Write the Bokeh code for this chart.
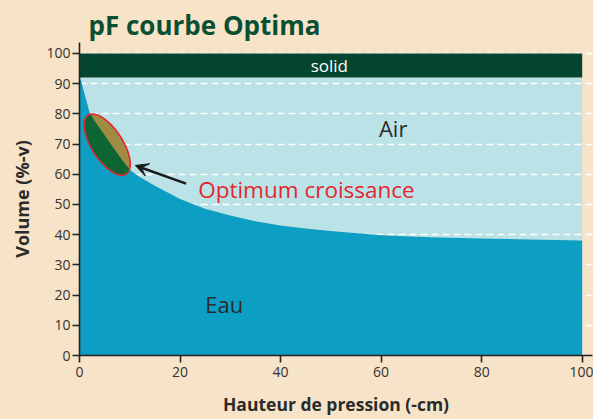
import numpy as np
from bokeh.plotting import figure
from bokeh.models import Range1d, Label, Arrow, VeeHead, FixedTicker
from bokeh.embed import file_html
from bokeh.resources import INLINE

# ---------------- data ----------------
pressure = [0, 0.3, 0.7, 1.4, 2, 3, 4, 5, 6, 8, 9, 10, 11, 12, 15, 20, 25, 30, 35, 40, 45, 50,
            60, 70, 80, 90, 100]
volume = [92, 91, 88.6, 84.2, 80.5, 77.6, 75.3, 72.9, 70.5, 65.8, 63.5, 61.6, 60.2, 59.1, 56.2,
          51.8, 48.6, 46.3, 44.4, 43.0, 42.0, 41.2, 39.8, 39.1, 38.7, 38.4, 38.1]
solid_range = [92, 100]
x_ticks = [0, 20, 40, 60, 80, 100]
y_ticks = [0, 10, 20, 30, 40, 50, 60, 70, 80, 90, 100]
optimum_center = [5.5, 69.8]

# ---------------- styles ----------------
PEACH = "#F7E3C8"
SOLID = "#03452F"
AIR = "#BBE3E7"
WATER = "#0D9EC4"
OLIVE = "#A08B42"
GREEN = "#0D6533"
RED = "#E3262F"
TITLE_GREEN = "#0B4F33"
TXT = "#2B2B2B"
FONT = "Open Sans"

W, H = 593, 419
BL, BR, BT, BB = 79, 1, 42, 64
X_END, Y_END = 102.05, 103.6

p = figure(width=W, height=H, output_backend="svg", toolbar_location=None,
           x_range=Range1d(0, X_END), y_range=Range1d(0, Y_END),
           min_border_left=BL, min_border_right=BR, min_border_top=BT, min_border_bottom=BB,
           background_fill_color=PEACH, border_fill_color=PEACH, outline_line_color=None)

# title
p.title.text = "pF courbe Optima"
p.title.text_font = FONT
p.title.text_font_size = "26px"
p.title.text_font_style = "bold"
p.title.text_color = TITLE_GREEN
p.title.align = "left"
p.title.offset = 9
p.title.standoff = 0

# air (underlay, drawn before the grid)
p.varea(x=pressure, y1=volume, y2=solid_range[0], fill_color=AIR, level="underlay")

# grid (underlay, above the air but below the water)
p.xgrid.visible = False
p.ygrid.ticker = FixedTicker(ticks=y_ticks)
p.ygrid.grid_line_color = "white"
p.ygrid.grid_line_width = 1.5
p.ygrid.grid_line_dash = "7 4"
p.ygrid.level = "underlay"

# water
p.varea(x=pressure, y1=0, y2=volume, fill_color=WATER)

# solid band
p.quad(left=pressure[0], right=pressure[-1], bottom=solid_range[0], top=solid_range[1],
       fill_color=SOLID, line_color=None)

# optimum ellipse (rotated in screen space)
frame_w = W - BL - BR
frame_h = H - BT - BB
sx = frame_w / X_END
sy = frame_h / Y_END
a, b, th = 35.0, 15.5, np.deg2rad(57)
t = np.linspace(0, 2 * np.pi, 600)
ux, uy = np.cos(th), -np.sin(th)
vx, vy = np.sin(th), np.cos(th)
px = a * np.cos(t) * ux + b * np.sin(t) * vx
py = a * np.cos(t) * uy + b * np.sin(t) * vy
ex = optimum_center[0] + px / sx
ey = optimum_center[1] + py / sy
p.patch(ex, ey, fill_color=OLIVE, line_color=None)
gy = np.minimum(ey, np.interp(ex, pressure, volume))
p.patch(ex, gy, fill_color=GREEN, line_color=None)
p.patch(ex, ey, fill_color=None, line_color=RED, line_width=1.6)

# arrow
p.add_layout(Arrow(end=VeeHead(size=13, fill_color="#1A1A1A", line_color="#1A1A1A"),
                   x_start=21.2, y_start=56.9, x_end=11.1, y_end=62.9,
                   line_color="#1A1A1A", line_width=2.5))

# labels
def lab(x, y, text, size, color, align="center"):
    p.add_layout(Label(x=x, y=y, text=text, text_font=FONT, text_font_size=size,
                       text_color=color, text_align=align, text_baseline="middle"))

lab(49.7, 96, "solid", "17px", "white")
lab(62.4, 75.2, "Air", "22px", TXT)
lab(28.8, 17.2, "Eau", "22px", TXT)
lab(23.6, 55.0, "Optimum croissance", "22.5px", RED, align="left")

# axes
for ax in (p.xaxis[0], p.yaxis[0]):
    ax.axis_line_color = "#222222"
    ax.axis_line_width = 1.6
    ax.major_tick_line_color = "#222222"
    ax.major_tick_line_width = 1.6
    ax.major_tick_out = 7
    ax.major_tick_in = 0
    ax.minor_tick_line_color = None
    ax.major_label_text_font = FONT
    ax.major_label_text_font_size = "14px"
    ax.major_label_text_color = "#333333"
    ax.axis_label_text_font = FONT
    ax.axis_label_text_font_style = "bold"
    ax.axis_label_text_color = TXT

p.xaxis.axis_label_text_font_size = "17.5px"
p.yaxis.axis_label_text_font_size = "18px"
p.xaxis.ticker = FixedTicker(ticks=x_ticks)
p.yaxis.ticker = FixedTicker(ticks=y_ticks)
p.xaxis.axis_label = "Hauteur de pression (-cm)"
p.yaxis.axis_label = "Volume (%-v)"
p.xaxis.major_label_standoff = 4
p.yaxis.major_label_standoff = 2
p.xaxis.axis_label_standoff = 12
p.yaxis.axis_label_standoff = 9

html = file_html(p, INLINE)
html = html.replace("<head>", "<head><style>html,body{background:%s;}</style>" % PEACH, 1)
open("out.html", "w").write(html)
